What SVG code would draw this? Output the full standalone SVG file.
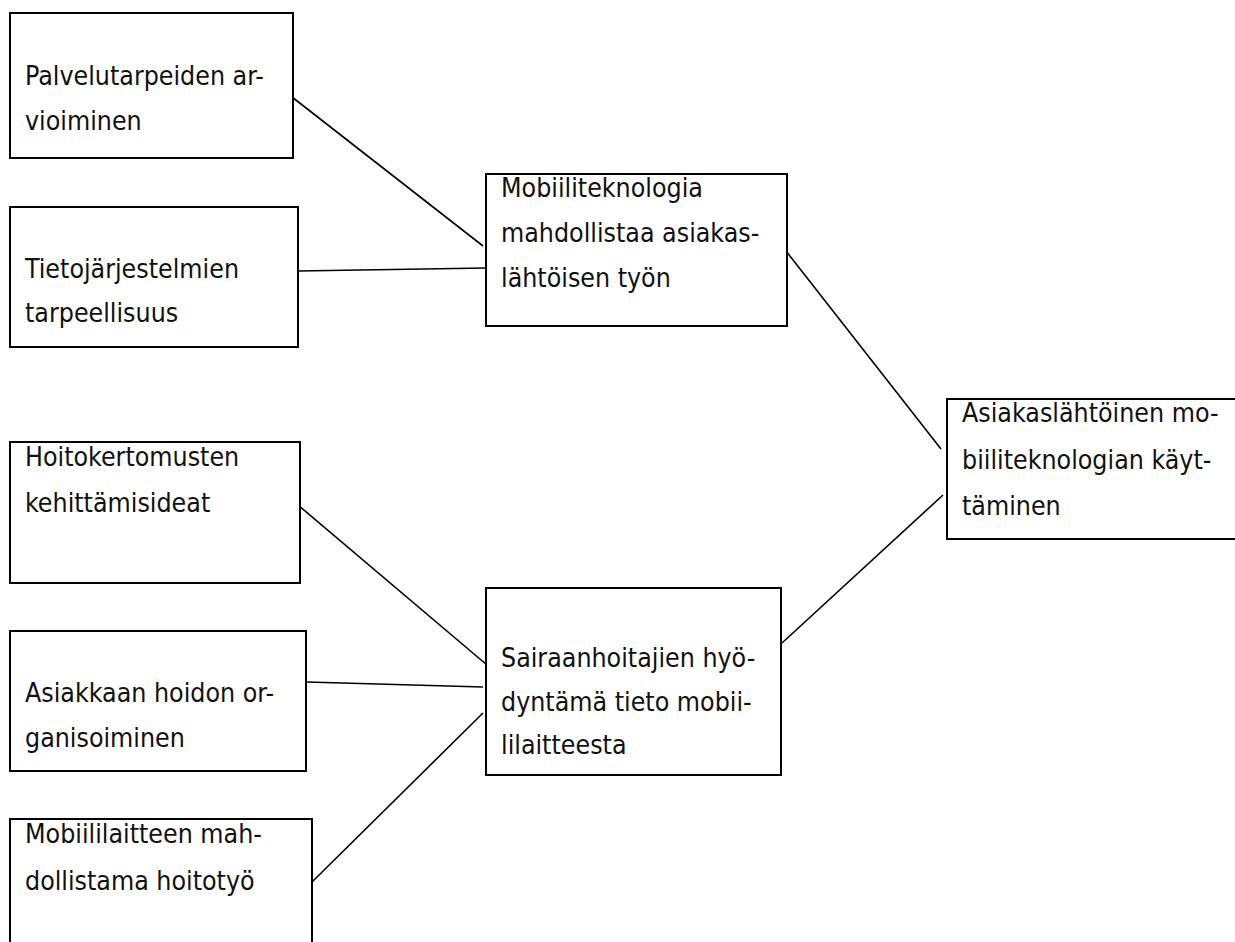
<svg xmlns="http://www.w3.org/2000/svg" width="1235" height="942" viewBox="0 0 1235 942">
<style>
.box{fill:#fff;stroke:#000;stroke-width:2}
.t{font-family:"DejaVu Sans Condensed","DejaVu Sans",sans-serif;font-size:26.5px;fill:#111}
.c{stroke:#000;stroke-width:1.6;fill:none}
</style>
<rect width="1235" height="942" fill="#fff"/>
<g id="connectors">
<line class="c" x1="292" y1="97" x2="483" y2="246"/>
<line class="c" x1="298" y1="271" x2="486" y2="268"/>
<line class="c" x1="786" y1="251" x2="941" y2="449"/>
<line class="c" x1="782" y1="643" x2="943" y2="495"/>
<line class="c" x1="298" y1="505" x2="487" y2="665"/>
<line class="c" x1="307" y1="682" x2="483" y2="687"/>
<line class="c" x1="311" y1="883" x2="483" y2="713"/>
</g>
<g id="n1"><rect class="box" x="10" y="13" width="283" height="145"/>
<text class="t" x="25" y="85">Palvelutarpeiden ar-</text><text class="t" x="25" y="130">vioiminen</text></g>
<g id="n2"><rect class="box" x="10" y="207" width="288" height="140"/>
<text class="t" x="25" y="278">Tietojärjestelmien</text><text class="t" x="25" y="322">tarpeellisuus</text></g>
<g id="n3"><rect class="box" x="10" y="442" width="290" height="141"/>
<text class="t" x="25" y="466">Hoitokertomusten</text><text class="t" x="25" y="512">kehittämisideat</text></g>
<g id="n4"><rect class="box" x="10" y="631" width="296" height="140"/>
<text class="t" x="25" y="702">Asiakkaan hoidon or-</text><text class="t" x="25" y="747">ganisoiminen</text></g>
<g id="n5"><rect class="box" x="10" y="819" width="302" height="140"/>
<text class="t" x="25" y="843">Mobiililaitteen mah-</text><text class="t" x="25" y="890">dollistama hoitotyö</text></g>
<g id="m1"><rect class="box" x="486" y="174" width="301" height="152"/>
<text class="t" x="501" y="197">Mobiiliteknologia</text><text class="t" x="501" y="242">mahdollistaa asiakas-</text><text class="t" x="501" y="287">lähtöisen työn</text></g>
<g id="m2"><rect class="box" x="486" y="588" width="295" height="187"/>
<text class="t" x="501" y="667">Sairaanhoitajien hyö-</text><text class="t" x="501" y="711">dyntämä tieto mobii-</text><text class="t" x="501" y="754">lilaitteesta</text></g>
<g id="r1"><rect class="box" x="947" y="399" width="300" height="140"/>
<text class="t" x="962" y="422">Asiakaslähtöinen mo-</text><text class="t" x="962" y="469">biiliteknologian käyt-</text><text class="t" x="962" y="515">täminen</text></g>
</svg>
